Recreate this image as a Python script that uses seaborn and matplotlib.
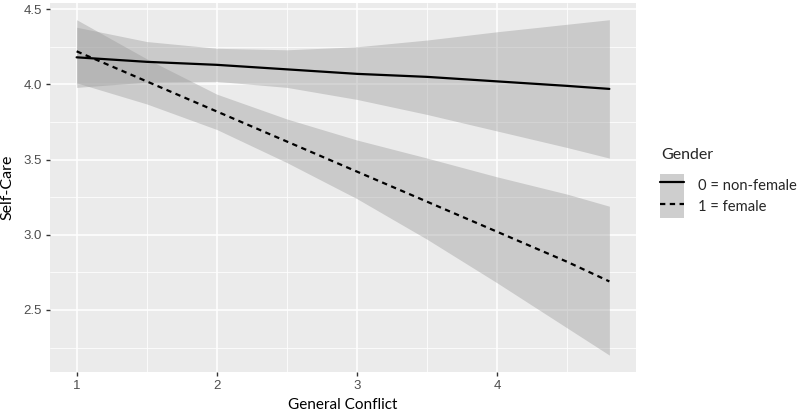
import pandas as pd
import matplotlib
matplotlib.use("Agg")
import matplotlib.pyplot as plt
import seaborn as sns
from matplotlib.lines import Line2D
from matplotlib.patches import Patch
from matplotlib.ticker import FormatStrFormatter


# values
conflict = [1.0, 1.5, 2.0, 2.5, 3.0, 3.5, 4.0, 4.5, 4.8]
gender_labels = ["0 = non-female", "1 = female"]

fit_nonfemale = [4.18, 4.15, 4.13, 4.10, 4.07, 4.05, 4.02, 3.99, 3.97]
upper_nonfemale = [4.38, 4.285, 4.24, 4.23, 4.25, 4.295, 4.35, 4.40, 4.43]
lower_nonfemale = [3.98, 4.015, 4.02, 3.98, 3.90, 3.80, 3.69, 3.58, 3.51]

fit_female = [4.22, 4.02, 3.82, 3.62, 3.42, 3.22, 3.02, 2.82, 2.69]
upper_female = [4.43, 4.17, 3.935, 3.77, 3.63, 3.51, 3.385, 3.27, 3.19]
lower_female = [4.01, 3.87, 3.70, 3.48, 3.24, 2.97, 2.68, 2.38, 2.20]

x_ticks = [1, 2, 3, 4]
y_ticks = [2.5, 3.0, 3.5, 4.0, 4.5]

df = pd.DataFrame({
    "conflict": conflict * 2,
    "fit": fit_nonfemale + fit_female,
    "upper": upper_nonfemale + upper_female,
    "lower": lower_nonfemale + lower_female,
    "Gender": [gender_labels[0]] * len(conflict) + [gender_labels[1]] * len(conflict),
})

sns.set_theme(style="darkgrid")
plt.rcParams["font.family"] = ["Liberation Sans", "DejaVu Sans"]
title_font = ["Lato", "DejaVu Sans"]

fig = plt.figure(figsize=(8, 4.11), dpi=100)
ax = fig.add_axes([0.0625, 0.095, 0.7325, 0.898])
ax.set_facecolor("#EBEBEB")

# confidence bands
for g in gender_labels:
    sub = df[df["Gender"] == g]
    ax.fill_between(sub["conflict"], sub["lower"], sub["upper"],
                    color="#999999", alpha=0.4, linewidth=0, zorder=2)

dash_map = {gender_labels[0]: "", gender_labels[1]: (2.4, 2.0)}
sns.lineplot(data=df, x="conflict", y="fit", style="Gender", dashes=dash_map,
             color="black", linewidth=1.6, legend=False, ax=ax, zorder=3)

ax.set_xlim(0.81, 4.99)
ax.set_ylim(2.088, 4.542)
ax.set_xticks(x_ticks)
ax.set_xticks([1.5, 2.5, 3.5, 4.5], minor=True)
ax.set_yticks(y_ticks)
ax.set_yticks([2.25, 2.75, 3.25, 3.75, 4.25], minor=True)
ax.yaxis.set_major_formatter(FormatStrFormatter("%.1f"))

ax.grid(which="major", color="white", linewidth=1.1)
ax.grid(which="minor", color="white", linewidth=0.55)
ax.set_axisbelow(True)
for s in ax.spines.values():
    s.set_visible(False)

ax.tick_params(which="major", length=3, width=1, color="#333333",
               labelcolor="#4D4D4D", labelsize=9.5, pad=3, bottom=True, left=True)
ax.tick_params(which="minor", length=0)

ax.set_xlabel("General Conflict", fontsize=11, family=title_font,
              color="black", labelpad=4)
ax.set_ylabel("Self-Care", fontsize=11.5, family=title_font,
              color="black", labelpad=6)

# legend: title as separate text, keys as grey boxes with the line on top
fig.text(661 / 800, 1 - 155 / 411, "Gender", fontsize=11.5, family=title_font,
         ha="left", va="center")
handles = [
    (Patch(facecolor="#CECECE", edgecolor="none"),
     Line2D([], [], color="black", linewidth=1.6)),
    (Patch(facecolor="#CECECE", edgecolor="none"),
     Line2D([], [], color="black", linewidth=1.6, linestyle=(0, (2.4, 2.0)))),
]
leg = fig.legend(handles, gender_labels, loc="upper left",
                 bbox_to_anchor=(660 / 800, 1 - 174 / 411), frameon=False,
                 borderpad=0, borderaxespad=0,
                 handlelength=1.6, handleheight=1.9, labelspacing=0.0,
                 handletextpad=0.95,
                 prop={"family": title_font, "size": 10.6})

fig.savefig("out.png", dpi=100)
plt.close(fig)
